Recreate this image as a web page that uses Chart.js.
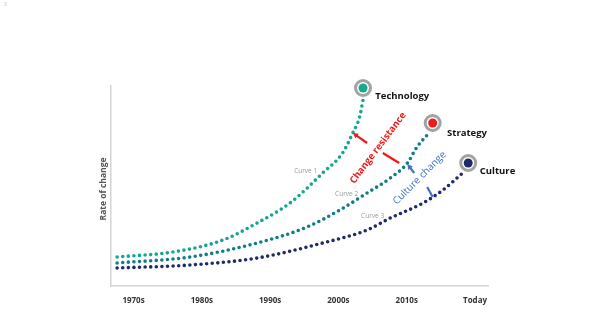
<!DOCTYPE html>
<html>
<head>
<meta charset="utf-8">
<script src="https://cdn.jsdelivr.net/npm/chart.js@4/dist/chart.umd.min.js"></script>
<style>
  html, body { margin: 0; padding: 0; background: #fff; }
  #wrap { position: relative; width: 596px; height: 335px; }
  #slide-no { position: absolute; left: 4px; top: 1px; font: 5px "Open Sans", sans-serif; color: #bbb; }
</style>
</head>
<body>
<div id="wrap">
  <div id="slide-no">3</div>
  <canvas id="rateChart" width="596" height="335"></canvas>
</div>
<script>
// x: 0 = 1970s ... 5 = Today ; y: 0..100 rate of change
const tickLabels = ["1970s", "1980s", "1990s", "2000s", "2010s", "Today"];

const curve1X = [-0.24, 0.58, 1.31, 1.81, 2.29, 2.77, 3.06, 3.21, 3.31, 3.36];
const curve1Y = [14.5, 17, 23, 31.5, 41.5, 56.5, 66.5, 76.5, 84.5, 93];

const curve2X = [-0.24, 0.83, 1.81, 2.54, 3.02, 3.42, 3.76, 4.01, 4.15, 4.30];
const curve2Y = [11.5, 14.5, 21.5, 29.5, 38, 46.5, 54, 61.5, 69.5, 75.5];

const curve3X = [-0.24, 0.83, 1.81, 2.77, 3.42, 3.76, 4.24, 4.53, 4.82];
const curve3Y = [9, 10.5, 14, 21.5, 28, 34, 41.5, 48, 56.5];

const markerNames = ["Technology", "Strategy", "Culture"];
const markerX = [3.36, 4.38, 4.90];
const markerY = [99, 81.5, 61.5];
const markerColors = ["#17a78c", "#ee1c1c", "#1f2a68"];
const markerLabelX = [3.54, 4.59, 5.07];
const markerLabelY = [95, 76.5, 57.5];

const curveNames = ["Curve 1", "Curve 2", "Curve 3"];
const curveLabelX = [2.52, 3.12, 3.5];
const curveLabelY = [57.5, 46, 35];

// rotated notes + their arrows
const noteText = ["Change resistance", "Culture change"];
const noteX = [3.58, 4.19];
const noteY = [69, 54];
const noteColor = ["#f01818", "#4472c4"];
const arrowFrom = [[3.42, 71.5], [4.11, 56.5]];
const arrowTo = [[3.21, 76.5], [4.01, 61]];
const stubFrom = [[3.65, 66.5], [4.30, 49.5]];
const stubTo = [[3.89, 61.5], [4.38, 44.5]];

const toPts = (xs, ys) => xs.map((x, i) => ({ x: x, y: ys[i] }));

function dotted(label, xs, ys, color) {
  return {
    type: 'line',
    label: label,
    data: toPts(xs, ys),
    borderColor: color,
    borderWidth: 3.6,
    borderDash: [0, 5.6],
    borderCapStyle: 'round',
    cubicInterpolationMode: 'monotone',
    pointRadius: 0,
    fill: false,
    clip: false,
    order: 3
  };
}

const overlay = {
  id: 'overlay',
  afterDatasetsDraw(chart) {
    const ctx = chart.ctx;
    const xs = chart.scales.x, ys = chart.scales.y;
    const px = v => xs.getPixelForValue(v);
    const py = v => ys.getPixelForValue(v);
    ctx.save();

    // y axis title
    ctx.save();
    ctx.translate(chart.chartArea.left - 7, (chart.chartArea.top + chart.chartArea.bottom) / 2 + 3);
    ctx.rotate(-Math.PI / 2);
    ctx.fillStyle = '#555';
    ctx.font = 'bold 8.5px "Open Sans", sans-serif';
    ctx.textAlign = 'center';
    ctx.textBaseline = 'middle';
    ctx.fillText('Rate of change', 0, 0);
    ctx.restore();

    // marker labels
    ctx.fillStyle = '#111';
    ctx.font = 'bold 9.5px "Open Sans", sans-serif';
    ctx.textAlign = 'left';
    ctx.textBaseline = 'middle';
    markerNames.forEach((t, i) => ctx.fillText(t, px(markerLabelX[i]), py(markerLabelY[i])));

    // curve labels
    ctx.fillStyle = '#9a9a9a';
    ctx.font = '6.5px "Open Sans", sans-serif';
    ctx.textAlign = 'center';
    curveNames.forEach((t, i) => ctx.fillText(t, px(curveLabelX[i]), py(curveLabelY[i])));

    // arrows
    noteText.forEach((t, i) => {
      ctx.strokeStyle = noteColor[i];
      ctx.fillStyle = noteColor[i];
      ctx.lineWidth = 2.2;
      const x1 = px(arrowFrom[i][0]), y1 = py(arrowFrom[i][1]);
      const x2 = px(arrowTo[i][0]), y2 = py(arrowTo[i][1]);
      const ang = Math.atan2(y2 - y1, x2 - x1);
      const hl = 6;
      ctx.beginPath();
      ctx.moveTo(x1, y1);
      ctx.lineTo(x2 - Math.cos(ang) * hl * 0.7, y2 - Math.sin(ang) * hl * 0.7);
      ctx.stroke();
      ctx.beginPath();
      ctx.moveTo(x2, y2);
      ctx.lineTo(x2 - hl * Math.cos(ang - 0.5), y2 - hl * Math.sin(ang - 0.5));
      ctx.lineTo(x2 - hl * Math.cos(ang + 0.5), y2 - hl * Math.sin(ang + 0.5));
      ctx.closePath();
      ctx.fill();
      ctx.beginPath();
      ctx.moveTo(px(stubFrom[i][0]), py(stubFrom[i][1]));
      ctx.lineTo(px(stubTo[i][0]), py(stubTo[i][1]));
      ctx.stroke();
    });

    // rotated notes
    const angles = [-53, -45];
    noteText.forEach((t, i) => {
      ctx.save();
      ctx.translate(px(noteX[i]), py(noteY[i]));
      ctx.rotate(angles[i] * Math.PI / 180);
      ctx.fillStyle = noteColor[i];
      ctx.font = (i === 0 ? 'bold 9.5px' : '10px') + ' "Open Sans", sans-serif';
      ctx.textAlign = 'center';
      ctx.textBaseline = 'middle';
      ctx.fillText(t, 0, 0);
      ctx.restore();
    });

    ctx.restore();
  }
};

const ctx = document.getElementById('rateChart').getContext('2d');
new Chart(ctx, {
  data: {
    datasets: [
      dotted('Curve 1', curve1X, curve1Y, '#16a68d'),
      dotted('Curve 2', curve2X, curve2Y, '#0f7e83'),
      dotted('Curve 3', curve3X, curve3Y, '#1f2a68'),
      {
        type: 'scatter',
        label: 'ring',
        data: toPts(markerX, markerY),
        pointRadius: 7.5,
        pointBackgroundColor: '#fff',
        pointBorderColor: '#a3a3a3',
        pointBorderWidth: 3,
        clip: false,
        order: 2
      },
      {
        type: 'scatter',
        label: 'marker',
        data: toPts(markerX, markerY),
        pointRadius: 4.5,
        pointBackgroundColor: markerColors,
        pointBorderWidth: 0,
        clip: false,
        order: 1
      }
    ]
  },
  options: {
    responsive: false,
    animation: false,
    events: [],
    layout: { padding: { left: 101, right: 108, top: 86, bottom: 0 } },
    plugins: { legend: { display: false }, tooltip: { enabled: false } },
    scales: {
      x: {
        type: 'linear',
        min: -0.33,
        max: 5.19,
        grid: { display: false, drawTicks: false },
        border: { color: '#d4d4d4', width: 1.5 },
        afterBuildTicks: s => { s.ticks = tickLabels.map((t, i) => ({ value: i })); },
        afterFit: s => { s.height = 49; },
        ticks: {
          padding: 10,
          color: '#333',
          font: { family: 'Open Sans', size: 8, weight: 'bold' },
          autoSkip: false,
          maxRotation: 0,
          callback: v => tickLabels[v]
        }
      },
      y: {
        min: 0,
        max: 100,
        grid: { display: false, drawTicks: false },
        border: { color: '#d4d4d4', width: 1.5 },
        ticks: { display: false },
        afterFit: s => { s.width = 10; }
      }
    }
  },
  plugins: [overlay]
});
</script>
</body>
</html>
